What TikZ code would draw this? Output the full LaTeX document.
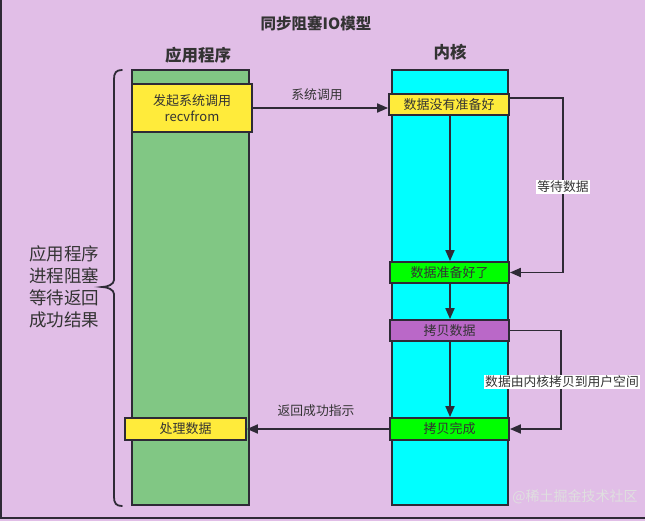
\documentclass[tikz,border=0pt]{standalone}
\usepackage{fontspec}
\setmainfont{Noto Sans CJK SC}
\usetikzlibrary{arrows.meta}
\definecolor{bgc}{HTML}{E1BEE7}
\definecolor{appg}{HTML}{81C784}
\definecolor{yel}{HTML}{FFEB3B}
\definecolor{cya}{HTML}{00FFFF}
\definecolor{grn}{HTML}{00FF00}
\definecolor{pur}{HTML}{BA68C8}
\definecolor{ink}{HTML}{333333}
\definecolor{lin}{HTML}{2E2A36}
\tikzset{
  col/.style={draw=lin, line width=1.8pt, minimum width=116pt, minimum height=435pt, inner sep=0pt},
  stepbox/.style={draw=lin, line width=1.8pt, minimum width=120pt, minimum height=21pt, inner sep=0pt, font=\fontsize{13}{14}\selectfont, text=ink},
  lbl/.style={font=\fontsize{12.8}{14}\selectfont, text=ink, inner sep=1pt},
  wlbl/.style={lbl, fill=white, inner sep=1.5pt},
  conn/.style={draw=lin, line width=1.8pt, -{Triangle[length=11pt,width=9pt]}},
  head/.style={font=\bfseries\fontsize{16.5}{18}\selectfont, text=ink},
}
\begin{document}
\begin{tikzpicture}[x=1pt,y=-1pt]
\useasboundingbox (0,0) rectangle (645,521);
\fill[bgc] (0,0) rectangle (645,521);
\draw[lin, line width=2pt] (1,0) -- (1,518) -- (645,518);

\node[head, font=\bfseries\fontsize{15.5}{18}\selectfont] (title) at (316,23) {同步阻塞IO模型};
\node[head] (apph) at (198,55) {应用程序};
\node[head] (kerh) at (450,52) {内核};

\node[col, fill=appg, minimum width=117pt] (appcol) at (190.5,287.5) {};
\node[col, fill=cya] (kercol) at (450,287.5) {};

\node[stepbox, fill=yel, minimum height=48pt, align=center, font=\fontsize{13}{16.5}\selectfont] (call) at (192,108) {发起系统调用\\recvfrom};
\node[stepbox, fill=yel] (k1) at (449,104.5) {数据没有准备好};
\node[stepbox, fill=grn, minimum width=119pt] (k2) at (449.5,272.5) {数据准备好了};
\node[stepbox, fill=pur, minimum width=119pt] (k3) at (449.5,330.5) {拷贝数据};
\node[stepbox, fill=grn, minimum width=119pt, minimum height=22pt] (k4) at (449.5,429) {拷贝完成};
\node[stepbox, fill=yel, minimum width=121pt, minimum height=22pt] (proc) at (185.5,429) {处理数据};

\draw[conn] (call.east) -- (call.east -| k1.west);
\node[lbl] (l1) at (317,95) {系统调用};
\draw[conn] (k4.west) -- (proc.east);
\node[lbl] (l2) at (316,411) {返回成功指示};

\draw[conn] (k1.south -| 450,0) -- (k2.north -| 450,0);
\draw[conn] (k2.south -| 450,0) -- (k3.north -| 450,0);
\draw[conn] (k3.south -| 450,0) -- (k4.north -| 450,0);

\coordinate (w1) at (509,98);
\draw[conn] (w1) -- (563,98) -- (563,272.5) -- (k2.east);
\node[wlbl] (l3) at (563,187) {等待数据};
\draw[conn] (k3.east) -- (561,330.5) -- (561,429) -- (k4.east);
\node[wlbl] (l4) at (562,382) {数据由内核拷贝到用户空间};

\draw[lin, line width=1.8pt, line cap=round] (122,70) .. controls (116,70) and (114,73) .. (114,79) -- (114,280) .. controls (114,284) and (108,287) .. (102,287) .. controls (108,287) and (114,290) .. (114,294) -- (114,497) .. controls (114,503) and (116,506) .. (122,506);
\node[font=\fontsize{17.5}{22}\selectfont, text=ink, align=center, inner sep=0pt] (side) at (64,287) {应用程序\\进程阻塞\\等待返回\\成功结果};

\node[font=\fontsize{14}{14}\selectfont, text=white!75!gray] (wm) at (575,497) {@稀土掘金技术社区};
\end{tikzpicture}
\end{document}
